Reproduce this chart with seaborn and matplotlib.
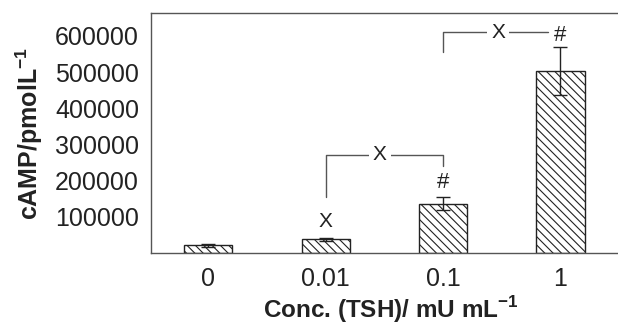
import pandas as pd
import matplotlib
matplotlib.use('Agg')
import matplotlib.pyplot as plt
import seaborn as sns

# data
conc = ['0', '0.01', '0.1', '1']
camp = [22000, 38000, 137000, 503000]
camp_err = [4000, 5000, 18000, 65000]

df = pd.DataFrame({'conc': conc, 'camp': camp})

sns.set_style('white')
plt.rcParams['font.family'] = ['Liberation Sans', 'DejaVu Sans']
plt.rcParams['mathtext.fontset'] = 'custom'
plt.rcParams['mathtext.rm'] = 'Liberation Sans'
plt.rcParams['mathtext.bf'] = 'Liberation Sans:bold'
plt.rcParams['hatch.linewidth'] = 0.8

ink = '#222222'
fig = plt.figure(figsize=(6.18, 3.27), dpi=100)
ax = fig.add_axes([0.245, 0.226, 0.755, 0.734])

sns.barplot(data=df, x='conc', y='camp', color='white', edgecolor=ink,
            linewidth=1.0, width=0.41, hatch='\\\\\\\\', ax=ax)
ax.errorbar(range(len(conc)), camp, yerr=camp_err, fmt='none',
            ecolor=ink, elinewidth=1.0, capsize=5, capthick=1.0)

ax.set_xlim(-0.486, 3.49)
ax.set_ylim(0, 663000)
ax.set_yticks([100000, 200000, 300000, 400000, 500000, 600000])
ax.tick_params(axis='y', direction='in', length=6, width=1, color=ink,
               labelsize=18, labelcolor=ink, pad=9)
ax.tick_params(axis='x', length=0, labelsize=18, labelcolor=ink, pad=10)

for side in ['left', 'top', 'bottom']:
    ax.spines[side].set_color('#555555')
    ax.spines[side].set_linewidth(1.0)
ax.spines['right'].set_visible(False)

ax.set_xlabel(r'Conc. (TSH)/ mU mL$^{\mathbf{-1}}$', fontsize=17.5,
              fontweight='bold', color=ink, labelpad=3)
ax.xaxis.set_label_coords(0.513, -0.17)
ax.set_ylabel(r'cAMP/pmolL$^{\mathbf{-1}}$', fontsize=18,
              fontweight='bold', color=ink, labelpad=7)

# significance marks
lc = '#555555'
ax.text(1, 86000, 'X', ha='center', va='center', fontsize=15, color=ink)
ax.text(2, 196000, '#', ha='center', va='center', fontsize=16, color=ink)
ax.plot([1, 1, 2, 2], [155000, 271000, 271000, 240000], color=lc, lw=1)
ax.text(1.46, 271000, 'X', ha='center', va='center', fontsize=15, color=ink,
        bbox=dict(facecolor='white', edgecolor='none', pad=3))
ax.plot([2, 2, 2.89], [555000, 610000, 610000], color=lc, lw=1)
ax.text(2.47, 610000, 'X', ha='center', va='center', fontsize=15, color=ink,
        bbox=dict(facecolor='white', edgecolor='none', pad=3))
ax.text(3, 602000, '#', ha='center', va='center', fontsize=16, color=ink)

fig.savefig('out.png', dpi=100)
